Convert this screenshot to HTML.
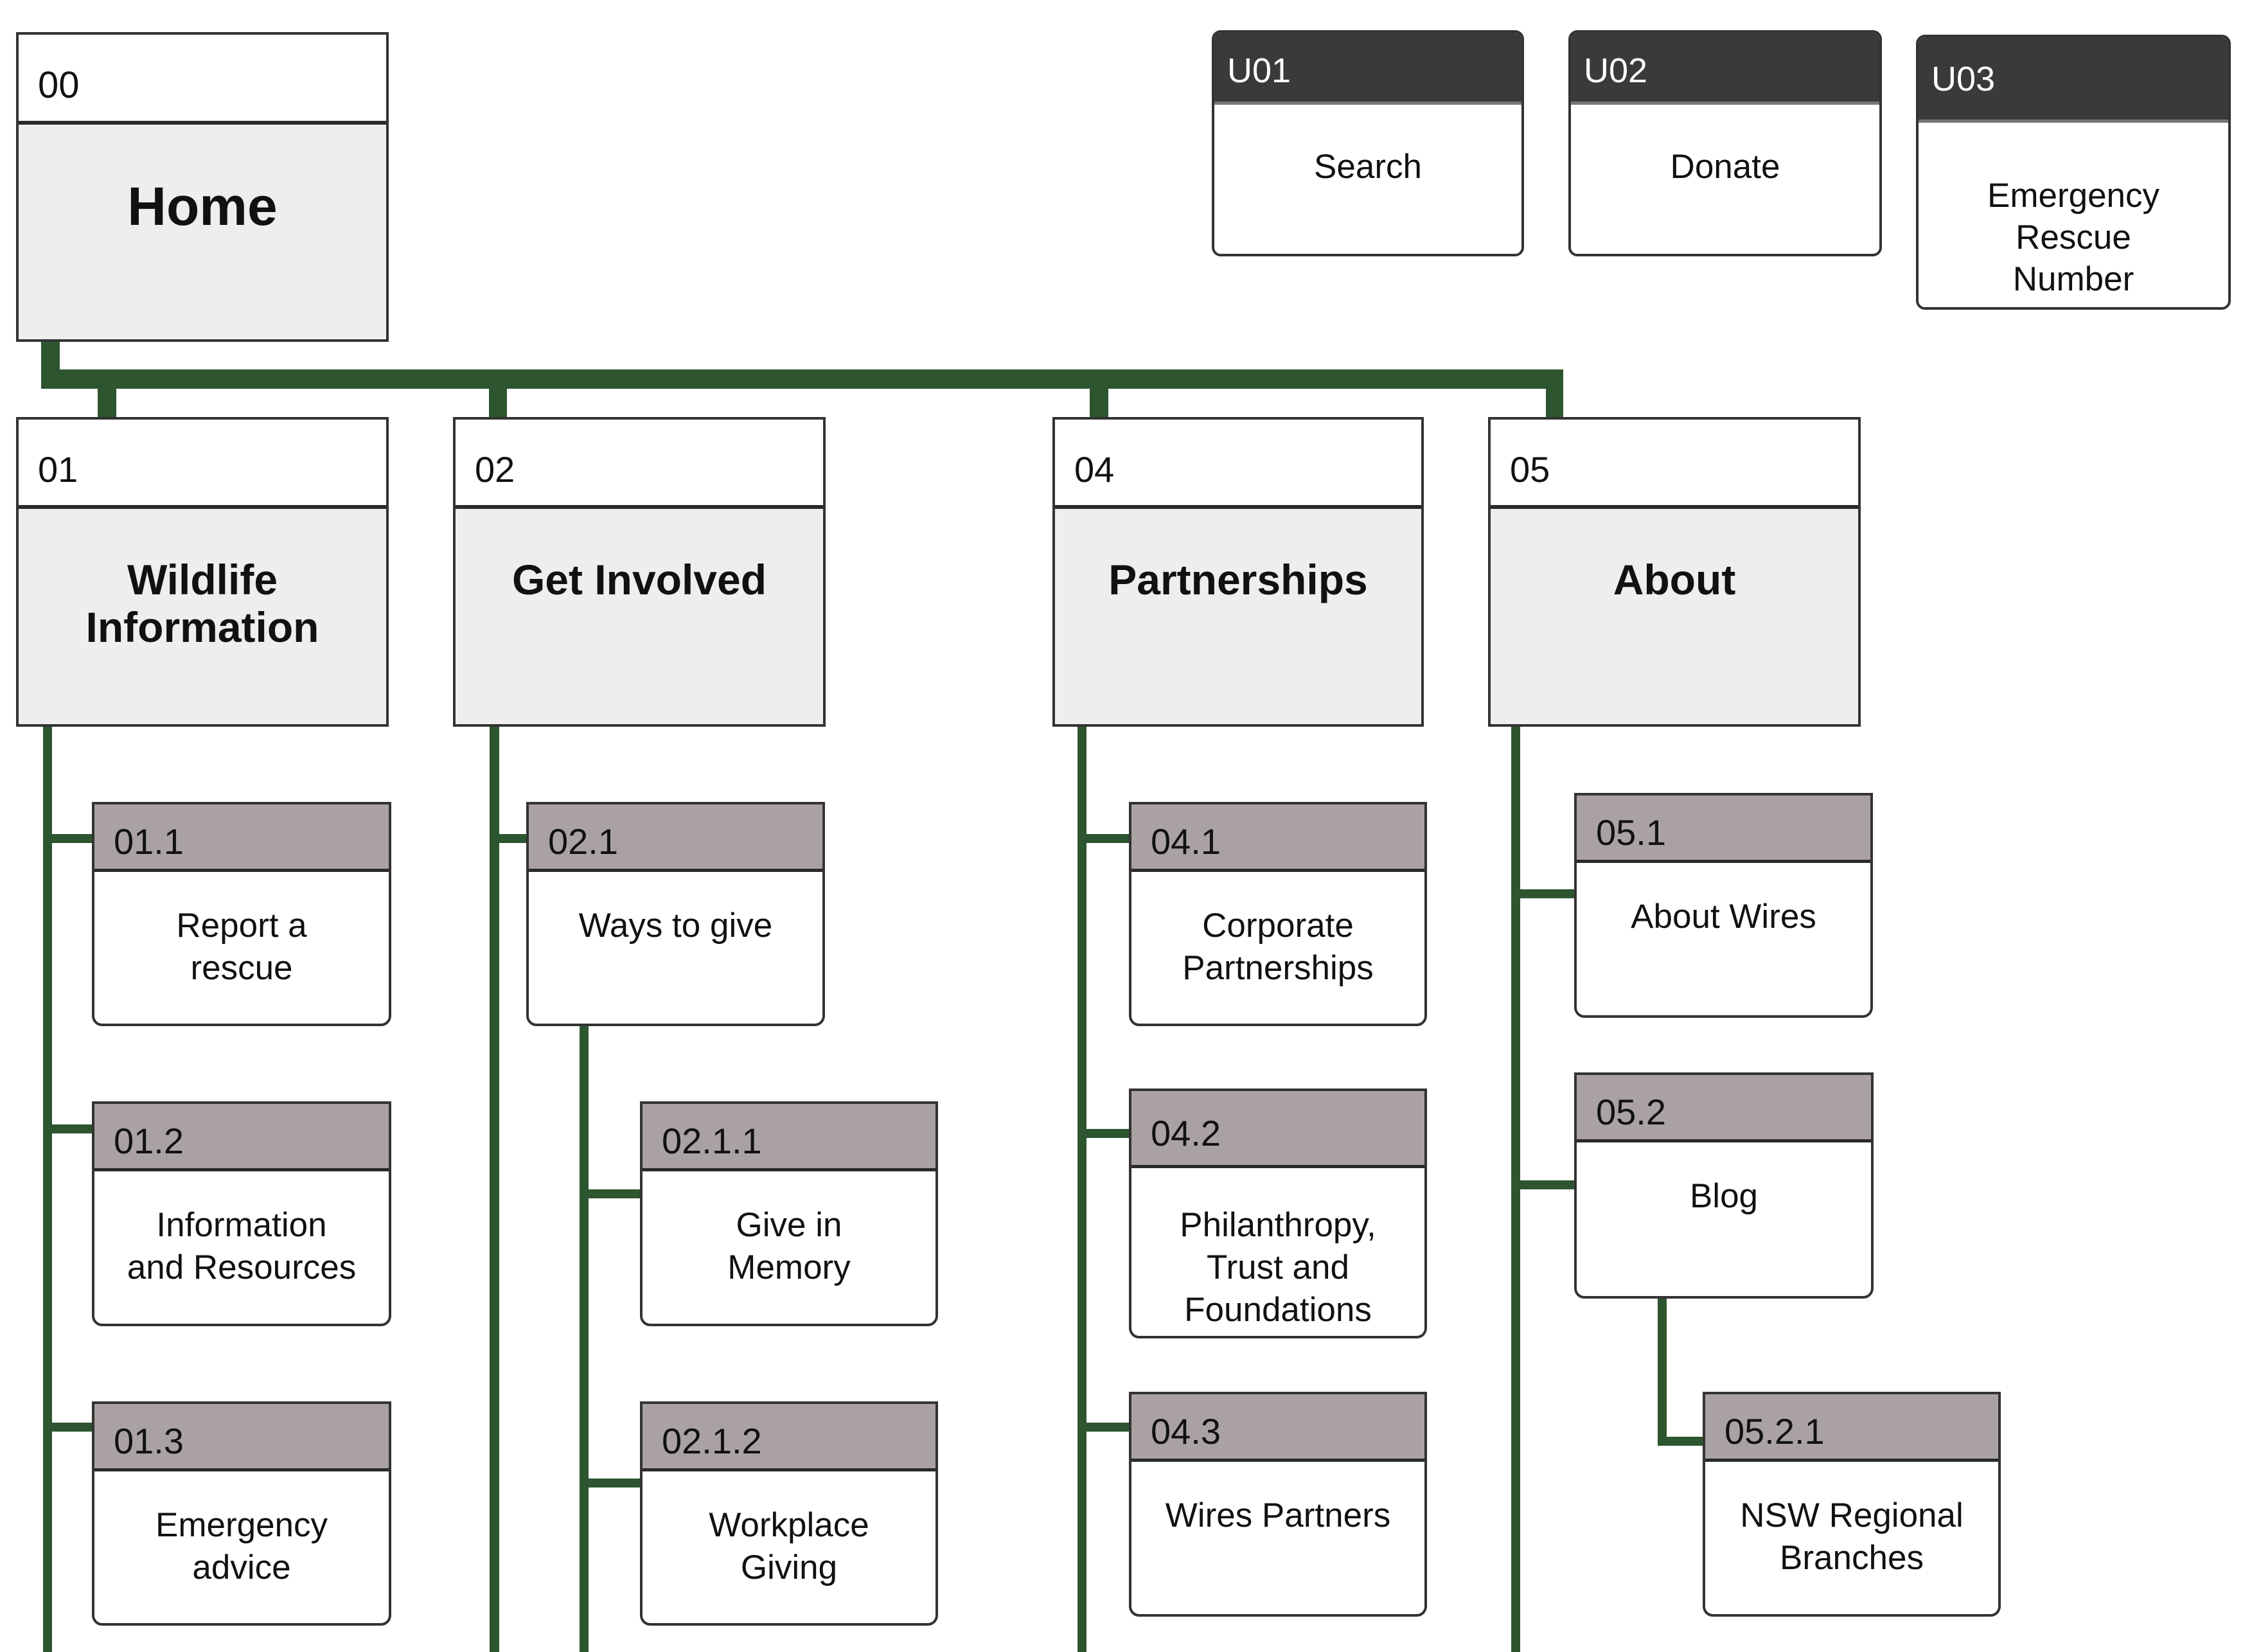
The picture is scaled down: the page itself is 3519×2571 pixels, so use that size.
<!DOCTYPE html>
<html><head><meta charset="utf-8"><style>
*{box-sizing:border-box;margin:0;padding:0}
body{width:3519px;height:2571px;background:#fff;position:relative;overflow:hidden;font-family:"Liberation Sans",Arial,sans-serif;color:#111}
.b{position:absolute;border:4px solid #333;background:#fff}
.h{position:absolute;left:0;right:0;top:0;border-bottom:6px solid #2a2a2a}
.id{position:absolute;font-size:56px;line-height:1}
.t{position:absolute;left:0;right:0;text-align:center}
.L1 .h{height:139px;background:#fff}
.L1{background:#eee}
.L1 .id{left:30px;top:50px}
.L1 .t{top:212px;font-weight:bold;font-size:66px;line-height:74px}
.c{border-radius:0 0 16px 16px}
.c .h{height:105px;background:#aaa2a2;border-bottom-width:5px}
.c .id{left:30px;top:30px;font-size:56px}
.c .t{top:156px;font-size:53px;line-height:66px}
.u{border-radius:14px;overflow:hidden}
.u .h{background:#3a3a3a;border-bottom:5px solid #777}
.u .id{color:#fff;left:20px;font-size:54px}
.u .t{font-size:53px;line-height:65px}
svg{position:absolute;left:0;top:0}
</style></head><body>
<svg width="3519" height="2571" fill="#2d5530">
<rect x="64" y="530" width="29" height="75"/>
<rect x="64" y="575" width="2369" height="30"/>
<rect x="152" y="600" width="29" height="50"/>
<rect x="761" y="600" width="28" height="50"/>
<rect x="1696" y="600" width="29" height="50"/>
<rect x="2406" y="600" width="27" height="50"/>
<rect x="67" y="1125" width="14" height="1446"/>
<rect x="762" y="1125" width="15" height="1446"/>
<rect x="1677" y="1125" width="14" height="1446"/>
<rect x="2352" y="1125" width="14" height="1446"/>
<rect x="902" y="1590" width="14" height="981"/>
<rect x="2580" y="2015" width="14" height="235"/>
<rect x="81" y="1298" width="64" height="14"/>
<rect x="81" y="1750" width="64" height="14"/>
<rect x="81" y="2214" width="64" height="14"/>
<rect x="777" y="1298" width="44" height="14"/>
<rect x="916" y="1851" width="82" height="14"/>
<rect x="916" y="2301" width="82" height="14"/>
<rect x="1691" y="1298" width="68" height="14"/>
<rect x="1691" y="1757" width="68" height="14"/>
<rect x="1691" y="2214" width="68" height="14"/>
<rect x="2366" y="1384" width="86" height="14"/>
<rect x="2366" y="1837" width="86" height="14"/>
<rect x="2580" y="2236" width="72" height="14"/>
</svg>

<div class="b L1" style="left:25px;top:50px;width:580px;height:482px"><div class="h" style="height:140px"></div><div class="id" style="left:30px;top:50px;font-size:58px">00</div><div class="t" style="top:222px;font-size:84px;line-height:90px;font-weight:bold">Home</div></div>

<div class="b L1" style="left:25px;top:649px;width:580px;height:482px"><div class="h"></div><div class="id">01</div><div class="t">Wildlife<br>Information</div></div>
<div class="b L1" style="left:705px;top:649px;width:580px;height:482px"><div class="h"></div><div class="id">02</div><div class="t">Get Involved</div></div>
<div class="b L1" style="left:1638px;top:649px;width:578px;height:482px"><div class="h"></div><div class="id">04</div><div class="t">Partnerships</div></div>
<div class="b L1" style="left:2316px;top:649px;width:580px;height:482px"><div class="h"></div><div class="id">05</div><div class="t">About</div></div>

<div class="b u" style="left:1886px;top:47px;width:486px;height:352px"><div class="h" style="height:112px"></div><div class="id" style="top:32px">U01</div><div class="t" style="top:176px">Search</div></div>
<div class="b u" style="left:2441px;top:47px;width:488px;height:352px"><div class="h" style="height:112px"></div><div class="id" style="top:32px">U02</div><div class="t" style="top:176px">Donate</div></div>
<div class="b u" style="left:2982px;top:54px;width:490px;height:428px"><div class="h" style="height:133px"></div><div class="id" style="top:38px">U03</div><div class="t" style="top:214px">Emergency<br>Rescue<br>Number</div></div>

<div class="b c" style="left:143px;top:1248px;width:466px;height:349px"><div class="h"></div><div class="id">01.1</div><div class="t">Report a<br>rescue</div></div>
<div class="b c" style="left:143px;top:1714px;width:466px;height:350px"><div class="h"></div><div class="id">01.2</div><div class="t">Information<br>and Resources</div></div>
<div class="b c" style="left:143px;top:2181px;width:466px;height:349px"><div class="h"></div><div class="id">01.3</div><div class="t">Emergency<br>advice</div></div>

<div class="b c" style="left:819px;top:1248px;width:465px;height:349px"><div class="h"></div><div class="id">02.1</div><div class="t">Ways to give</div></div>
<div class="b c" style="left:996px;top:1714px;width:464px;height:350px"><div class="h"></div><div class="id">02.1.1</div><div class="t">Give in<br>Memory</div></div>
<div class="b c" style="left:996px;top:2181px;width:464px;height:349px"><div class="h"></div><div class="id">02.1.2</div><div class="t">Workplace<br>Giving</div></div>

<div class="b c" style="left:1757px;top:1248px;width:464px;height:349px"><div class="h"></div><div class="id">04.1</div><div class="t">Corporate<br>Partnerships</div></div>
<div class="b c" style="left:1757px;top:1694px;width:464px;height:389px"><div class="h" style="height:120px"></div><div class="id" style="top:38px">04.2</div><div class="t" style="top:176px">Philanthropy,<br>Trust and<br>Foundations</div></div>
<div class="b c" style="left:1757px;top:2166px;width:464px;height:350px"><div class="h"></div><div class="id">04.3</div><div class="t">Wires Partners</div></div>

<div class="b c" style="left:2450px;top:1234px;width:465px;height:350px"><div class="h"></div><div class="id">05.1</div><div class="t">About Wires</div></div>
<div class="b c" style="left:2450px;top:1669px;width:466px;height:352px"><div class="h"></div><div class="id">05.2</div><div class="t">Blog</div></div>
<div class="b c" style="left:2650px;top:2166px;width:464px;height:350px"><div class="h"></div><div class="id">05.2.1</div><div class="t">NSW Regional<br>Branches</div></div>
</body></html>
